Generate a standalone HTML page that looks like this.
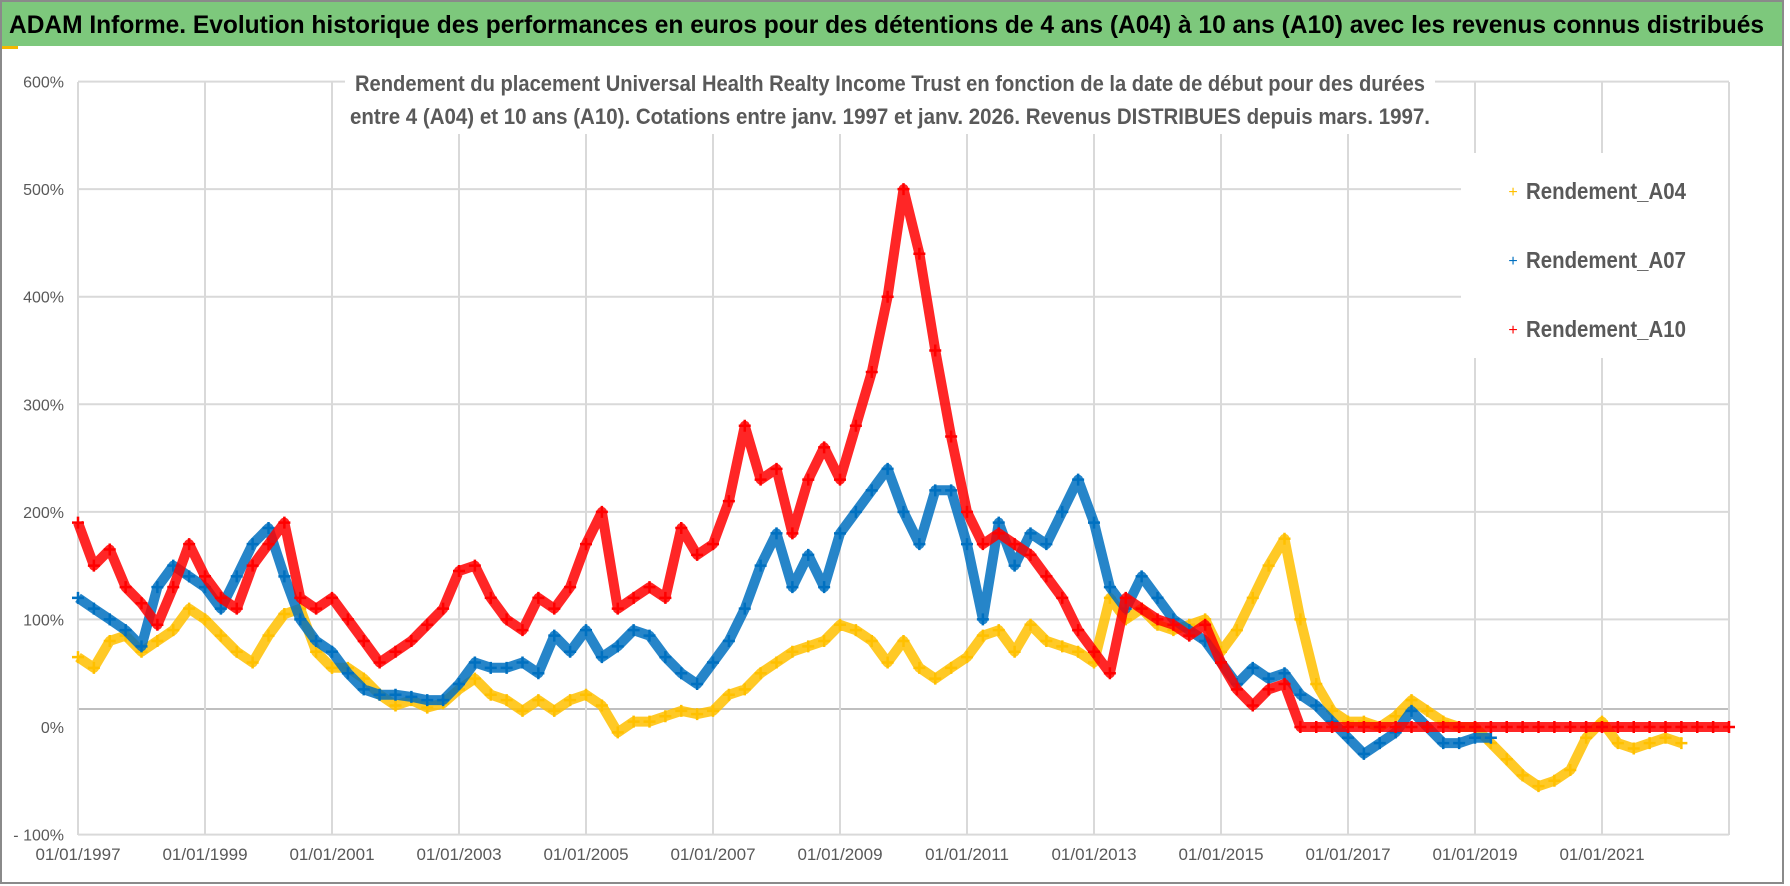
<!DOCTYPE html>
<html><head><meta charset="utf-8"><style>
html,body{margin:0;padding:0;background:#fff;}
svg{display:block;font-family:"Liberation Sans",sans-serif;}
</style></head><body>
<svg id="chart" width="1790" height="886" viewBox="0 0 1790 886">
<rect x="0" y="0" width="1790" height="886" fill="#fff"/>
<rect x="1" y="1" width="1782" height="882" fill="none" stroke="#8a8a8a" stroke-width="2"/>
<rect x="2" y="2" width="1780" height="44" fill="#7dc87c"/>
<text x="9" y="33" font-size="25" font-weight="bold" fill="#000" textLength="1755" lengthAdjust="spacingAndGlyphs">ADAM Informe. Evolution historique des performances en euros pour des détentions de 4 ans (A04) à 10 ans (A10) avec les revenus connus distribués</text>
<rect x="2" y="46" width="16" height="3" fill="#f5b800"/>
<g id="grid"></g>
<rect x="345" y="62" width="1090" height="72" fill="#fff"/>
<text x="890" y="91" font-size="22" font-weight="bold" fill="#595959" text-anchor="middle" textLength="1070" lengthAdjust="spacingAndGlyphs">Rendement du placement Universal Health Realty Income Trust en fonction de la date de début pour des durées</text>
<text x="890" y="124" font-size="22" font-weight="bold" fill="#595959" text-anchor="middle" textLength="1080" lengthAdjust="spacingAndGlyphs">entre 4 (A04) et 10 ans (A10).  Cotations entre janv. 1997 et janv. 2026. Revenus DISTRIBUES depuis mars. 1997.</text>
<g id="series"></g>
<g id="axes"></g>
<g>
<rect x="1461" y="153" width="267" height="205" fill="#fff"/>
<g><text x="1513" y="197" font-size="16" fill="#ffc000" text-anchor="middle">+</text><text x="1526" y="199" font-size="23" font-weight="bold" fill="#595959" textLength="160" lengthAdjust="spacingAndGlyphs">Rendement_A04</text></g>
<g><text x="1513" y="266" font-size="16" fill="#0070c0" text-anchor="middle">+</text><text x="1526" y="268" font-size="23" font-weight="bold" fill="#595959" textLength="160" lengthAdjust="spacingAndGlyphs">Rendement_A07</text></g>
<g><text x="1513" y="335" font-size="16" fill="#ff0000" text-anchor="middle">+</text><text x="1526" y="337" font-size="23" font-weight="bold" fill="#595959" textLength="160" lengthAdjust="spacingAndGlyphs">Rendement_A10</text></g>
</g>
</svg>
<script>
const yTicks=[600,500,400,300,200,100,0,-100];
const yTickLabels=["600%","500%","400%","300%","200%","100%","0%","- 100%"];
const xTickYears=[1997,1999,2001,2003,2005,2007,2009,2011,2013,2015,2017,2019,2021,2023];
const xTickLabels=["01/01/1997","01/01/1999","01/01/2001","01/01/2003","01/01/2005","01/01/2007","01/01/2009","01/01/2011","01/01/2013","01/01/2015","01/01/2017","01/01/2019","01/01/2021",""];
const startYear=1997;
const step=0.25;
const a04=[65,55,80,85,70,80,90,110,100,85,70,60,85,105,110,70,55,55,45,30,20,25,18,22,35,45,30,25,15,25,15,25,30,20,-5,5,5,10,15,12,15,30,35,50,60,70,75,80,95,90,80,60,80,55,45,55,65,85,90,70,95,80,75,70,60,120,100,110,95,90,95,100,70,90,120,150,175,100,40,15,5,5,0,10,25,15,5,0,0,-15,-30,-45,-55,-50,-40,-10,5,-15,-20,-15,-10,-15];
const a07=[120,110,100,90,75,130,150,140,130,110,140,170,185,140,100,80,70,50,35,30,30,28,25,25,40,60,55,55,60,50,85,70,90,65,75,90,85,65,50,40,60,80,110,150,180,130,160,130,180,200,220,240,200,170,220,220,170,100,190,150,180,170,200,230,190,130,110,140,120,100,90,80,60,40,55,45,50,30,20,5,-10,-25,-15,-5,15,0,-15,-15,-10,-10];
const a10=[190,150,165,130,115,95,130,170,140,120,110,150,170,190,120,110,120,100,80,60,70,80,95,110,145,150,120,100,90,120,110,130,170,200,110,120,130,120,185,160,170,210,280,230,240,180,230,260,230,280,330,400,500,440,350,270,200,170,180,170,160,140,120,90,70,50,120,110,100,95,85,95,60,35,20,35,40,0,0,0,0,0,0,0,0,0,0,0,0,0,0,0,0,0,0,0,0,0,0,0,0,0,0,0,0];
const NS="http://www.w3.org/2000/svg";
function xScale(yr){return 78+(yr-1997)*63.5;}
function yScale(v){return 727-v*1.0757;}
const grid=document.getElementById('grid');
function mk(tag,attrs,parent){const e=document.createElementNS(NS,tag);for(const k in attrs)e.setAttribute(k,attrs[k]);parent.appendChild(e);return e;}
yTicks.forEach(function(t){
  if(t===0) return;
  const l=mk('line',{x1:78,x2:1729,y1:yScale(t),y2:yScale(t),stroke:'#d9d9d9','stroke-width':2},grid);
  
  
});
const ax=mk('line',{x1:78,x2:1729,y1:709,y2:709,stroke:'#bfbfbf','stroke-width':2},grid);


xTickYears.forEach(function(yr){
  const l=mk('line',{x1:xScale(yr),x2:xScale(yr),y1:82,y2:835,stroke:'#d9d9d9','stroke-width':2},grid);
  
  
});
const axes=document.getElementById('axes');
yTicks.forEach(function(t,i){
  const tx=mk('text',{x:64,y:yScale(t)+6,'font-size':16,fill:'#595959','text-anchor':'end'},axes);
  tx.textContent=yTickLabels[i];
  
  
});
xTickYears.forEach(function(yr,i){
  if(!xTickLabels[i]) return;
  const tx=mk('text',{x:xScale(yr),y:860,'font-size':17,fill:'#595959','text-anchor':'middle'},axes);
  tx.textContent=xTickLabels[i];
  
  
});
const series=document.getElementById('series');
function draw(vals,color,name){
  const g=mk('g',{},series);
  
  
  const pts=vals.map(function(v,i){return xScale(startYear+i*step).toFixed(1)+','+yScale(v).toFixed(1);}).join(' ');
  const pl=mk('polyline',{points:pts,fill:'none',stroke:color,'stroke-width':10,'stroke-linejoin':'round','stroke-opacity':0.85},g);
  
  
  vals.forEach(function(v,i){
    const x=xScale(startYear+i*step),y=yScale(v);
    const p=mk('path',{d:'M'+(x-6)+' '+y+'H'+(x+6)+'M'+x+' '+(y-6)+'V'+(y+6),stroke:color,'stroke-width':2.5},g);
    
    
  });
}
draw(a04,'#ffc000','series-a04');
draw(a07,'#0070c0','series-a07');
draw(a10,'#ff0000','series-a10');
</script>
</body></html>
